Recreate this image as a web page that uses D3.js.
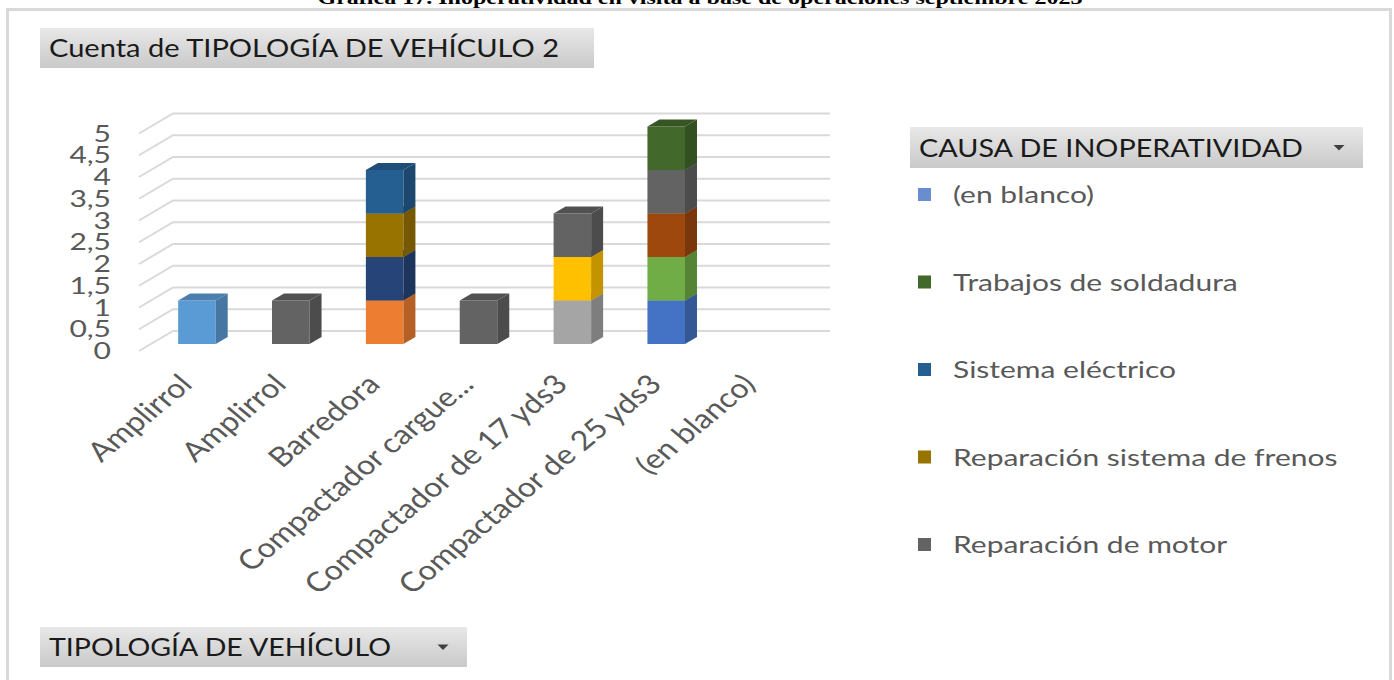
<!DOCTYPE html>
<html>
<head>
<meta charset="utf-8">
<script src="https://cdn.jsdelivr.net/npm/d3@7"></script>
<style>
  body { margin: 0; background: #fff; }
  svg text { font-family: Lato, "Open Sans", sans-serif; }
</style>
</head>
<body>
<div class="graphHolder"></div>
<script>
// ---- data ----
let categories = ["Amplirrol", "Amplirrol", "Barredora", "Compactador cargue...",
  "Compactador de 17 yds3", "Compactador de 25 yds3", "(en blanco)"];

// causes in stacking order (bottom to top); only some are named in the visible legend
let causes = ["Causa 1", "Causa 2", "Causa 11", "Reparación sistema de frenos",
  "Sistema eléctrico", "Causa 3", "Causa 4", "Causa 5", "Causa 6", "Causa 8",
  "Reparación de motor", "Trabajos de soldadura", "(en blanco)"];
let causeColors = ["#5b9bd5", "#ed7d31", "#264478", "#997300",
  "#255e91", "#a5a5a5", "#ffc000", "#4472c4", "#70ad47", "#9e480e",
  "#636363", "#43682b", "#698ed0"];
// counts[cause][category]
let counts = [
  [1, 0, 0, 0, 0, 0, 0],
  [0, 0, 1, 0, 0, 0, 0],
  [0, 0, 1, 0, 0, 0, 0],
  [0, 0, 1, 0, 0, 0, 0],
  [0, 0, 1, 0, 0, 0, 0],
  [0, 0, 0, 0, 1, 0, 0],
  [0, 0, 0, 0, 1, 0, 0],
  [0, 0, 0, 0, 0, 1, 0],
  [0, 0, 0, 0, 0, 1, 0],
  [0, 0, 0, 0, 0, 1, 0],
  [0, 1, 0, 1, 1, 1, 0],
  [0, 0, 0, 0, 0, 1, 0],
  [0, 0, 0, 0, 0, 0, 0]
];
let yTicks = [0, 0.5, 1, 1.5, 2, 2.5, 3, 3.5, 4, 4.5, 5];
let yTickLabels = ["0", "0,5", "1", "1,5", "2", "2,5", "3", "3,5", "4", "4,5", "5"];
let legendItems = ["(en blanco)", "Trabajos de soldadura", "Sistema eléctrico",
  "Reparación sistema de frenos", "Reparación de motor"];

let caption = "Gráfica 17. Inoperatividad en visita a base de operaciones septiembre 2023";
let valueTitle = "Cuenta de TIPOLOGÍA DE VEHÍCULO 2";
let legendTitle = "CAUSA DE INOPERATIVIDAD";
let axisTitle = "TIPOLOGÍA DE VEHÍCULO";

// ---- layout ----
let W = 1394, H = 680,
  depthX = 12, depthY = -7,       // bar depth
  gridFront = { dx: -11, dy: 7 },  // front edge of grid relative to bar plane
  gridBack = { dx: 22, dy: -13 },  // back wall relative to bar plane
  gridRight = 830,
  stretch = 1.25,                  // the source picture is stretched sideways
  textColor = "#595959";

let svg = d3.select(".graphHolder")
  .append("svg")
  .attr("width", W)
  .attr("height", H);

let defs = svg.append("defs");
let grad = defs.append("linearGradient")
  .attr("id", "btn").attr("x1", 0).attr("y1", 0).attr("x2", 0).attr("y2", 1);
grad.append("stop").attr("offset", "0%").attr("stop-color", "#e8e8e8");
grad.append("stop").attr("offset", "100%").attr("stop-color", "#c9c9c9");

// caption cut off at top
svg.append("text")
  .attr("x", 700).attr("y", 4)
  .attr("text-anchor", "middle")
  .style("font-family", "'Liberation Serif', serif")
  .style("font-weight", "bold")
  .style("font-size", "18px")
  .attr("textLength", 765)
  .attr("lengthAdjust", "spacingAndGlyphs")
  .text(caption);

// chart frame
svg.append("rect")
  .attr("x", 7.5).attr("y", 9.5)
  .attr("width", 1383).attr("height", 700)
  .attr("fill", "none")
  .attr("stroke", "#d9d9d9")
  .attr("stroke-width", 3);

// pivot field buttons
function fieldButton(x, y, w, h, label, textW, arrow) {
  let g = svg.append("g").attr("transform", "translate(" + x + "," + y + ")");
  g.append("rect").attr("width", w).attr("height", h).attr("fill", "url(#btn)");
  g.append("text")
    .attr("x", 9).attr("y", h / 2 + 9)
    .attr("fill", "#1a1a1a")
    .style("font-size", "25px")
    .attr("textLength", textW)
    .attr("lengthAdjust", "spacingAndGlyphs")
    .text(label);
  if (arrow) {
    g.append("path")
      .attr("d", "M" + (w - 29.5) + "," + (h / 2 - 2.5) + " h11 l-5.5,5.5 z")
      .attr("fill", "#404040");
  }
}
fieldButton(40, 28, 554, 40, valueTitle, 510, false);
fieldButton(910, 127, 453, 41, legendTitle, 384, true);
fieldButton(40, 627, 427, 40, axisTitle, 342, true);

// ---- scales ----
let xScale = d3.scaleBand()
  .domain(d3.range(categories.length))
  .range([150, 807])
  .paddingInner(0.6)
  .paddingOuter(0.3);

let yScale = d3.scaleLinear()
  .domain([0, 5])
  .range([344, 126.5]);

// gridlines (3D: diagonal side + back wall)
let grid = svg.append("g").attr("stroke", "#d9d9d9").attr("stroke-width", 2).attr("fill", "none");
yTicks.forEach(v => {
  let y0 = yScale(v);
  let x0 = xScale.range()[0];
  grid.append("path")
    .attr("d", "M" + (x0 + gridFront.dx) + "," + (y0 + gridFront.dy) +
      " L" + (x0 + gridBack.dx + 1) + "," + (y0 + gridBack.dy) +
      " H" + gridRight);
});

// y tick labels
svg.append("g")
  .selectAll("text")
  .data(yTicks)
  .enter()
  .append("text")
  .attr("transform", d => "translate(111," + (yScale(d) + gridFront.dy + 8) + ") scale(" + stretch + ",1)")
  .attr("text-anchor", "end")
  .attr("fill", textColor)
  .style("font-size", "24px")
  .text((d, i) => yTickLabels[i]);

// ---- stacked 3D bars ----
let rows = categories.map((c, i) => {
  let r = { idx: i };
  causes.forEach((k, j) => { r[k] = counts[j][i]; });
  return r;
});
let stacked = d3.stack().keys(causes)(rows);

let bars = svg.append("g");
categories.forEach((c, i) => {
  stacked.forEach((s, j) => {
    let d = s[i];
    if (d[1] - d[0] <= 0) return;
    let x0 = xScale(i), x1 = x0 + xScale.bandwidth();
    let yb = yScale(d[0]), yt = yScale(d[1]);
    let col = d3.color(causeColors[j]);
    bars.append("rect")
      .attr("x", x0).attr("y", yt)
      .attr("width", x1 - x0).attr("height", yb - yt)
      .attr("fill", col);
    bars.append("path")
      .attr("d", "M" + x1 + "," + yb + " L" + (x1 + depthX) + "," + (yb + depthY) +
        " L" + (x1 + depthX) + "," + (yt + depthY) + " L" + x1 + "," + yt + "Z")
      .attr("fill", col.darker(0.75));
    bars.append("path")
      .attr("d", "M" + x0 + "," + yt + " L" + x1 + "," + yt + " L" + (x1 + depthX) + "," + (yt + depthY) +
        " L" + (x0 + depthX) + "," + (yt + depthY) + "Z")
      .attr("fill", col.darker(0.55));
  });
});

// x labels: 45 degree text, then the sideways stretch of the picture
svg.append("g")
  .selectAll("text")
  .data(categories)
  .enter()
  .append("text")
  .attr("transform", (d, i) => "translate(" + (xScale(i) + xScale.bandwidth() / 2 - 3) + ",386) scale(1.2,1) rotate(-45)")
  .attr("text-anchor", "end")
  .attr("fill", textColor)
  .style("font-size", "27px")
  .text(d => d);

// legend
let legend = svg.append("g")
  .selectAll("g")
  .data(legendItems)
  .enter()
  .append("g")
  .attr("transform", (d, i) => "translate(918," + (195 + i * 87.5) + ")");
legend.append("rect")
  .attr("x", 0).attr("y", -7)
  .attr("width", 13).attr("height", 13)
  .attr("fill", d => causeColors[causes.indexOf(d)]);
legend.append("text")
  .attr("transform", "translate(35,8) scale(" + stretch + ",1)")
  .attr("fill", textColor)
  .style("font-size", "24px")
  .text(d => d);
</script>
</body>
</html>
